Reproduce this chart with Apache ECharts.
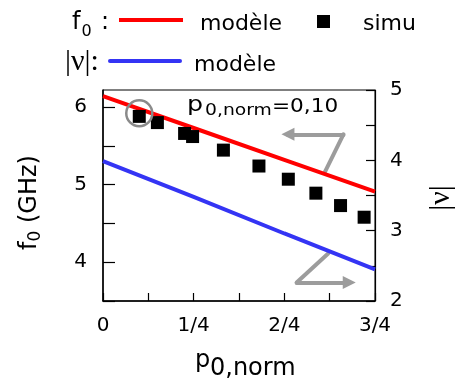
<!DOCTYPE html>
<html>
<head>
<meta charset="utf-8">
<script src="https://cdn.jsdelivr.net/npm/echarts@6/dist/echarts.min.js"></script>
<style>
html,body{margin:0;padding:0;background:#fff;}
#chart{width:465px;height:384px;}
</style>
</head>
<body>
<div id="chart"></div>
<script>
// ---- data ----
const pModel = [0, 0.25, 0.5, 0.75];
const f0Model = [6.14, 5.73, 5.32, 4.91];      // GHz, left axis
const nuModel = [3.99, 3.48, 2.96, 2.45];      // |nu|, right axis
const pSimu = [0.10, 0.15, 0.225, 0.247, 0.332, 0.43, 0.511, 0.587, 0.655, 0.72];
const f0Simu = [5.88, 5.80, 5.66, 5.62, 5.445, 5.24, 5.07, 4.89, 4.73, 4.58];
const highlightPoint = [0.10, 5.92];
const xTickValues = [0, 0.25, 0.5, 0.75];
const xTickLabels = ['0', '1/4', '2/4', '3/4'];
const f0TickLabels = [4, 5, 6];
const nuTickLabels = [2, 3, 4, 5];
// annotation arrows (data coordinates, left axis)
const arrowF0Stem = [[0.612, 5.165], [0.663, 5.648]];
const arrowF0Head = [[0.663, 5.648], [0.510, 5.648]];
const arrowNuStem = [[0.621, 4.112], [0.534, 3.738]];
const arrowNuHead = [[0.534, 3.738], [0.679, 3.738]];

const FONT = 'DejaVu Sans';
const SERIF = 'Liberation Serif';
const chart = echarts.init(document.getElementById('chart'), null, {renderer: 'canvas'});

function zip(a, b) { return a.map((v, i) => [v, b[i]]); }

function txt(x, y, text, size, extra) {
  return Object.assign({
    type: 'text', x: x, y: y,
    style: Object.assign({text: text, fontSize: size, fontFamily: FONT, fill: '#000',
      align: 'left', verticalAlign: 'middle'}, (extra && extra.style) || {})
  }, extra && extra.el || {});
}

const option = {
  backgroundColor: '#fff',
  animation: false,
  grid: {left: 103, right: 90, top: 90, bottom: 83, show: true, borderColor: '#000', borderWidth: 1,
    containLabel: false, outerBoundsMode: 'none'},
  xAxis: {
    type: 'value', min: 0, max: 0.75, interval: 0.125,
    axisLine: {show: true, lineStyle: {color: '#000', width: 1.5}},
    axisTick: {show: true, inside: true, length: 8, lineStyle: {color: '#000', width: 1.2}},
    splitLine: {show: false},
    axisLabel: {
      margin: 15, fontSize: 20, fontFamily: FONT, color: '#000',
      formatter: function (v) {
        for (let i = 0; i < xTickValues.length; i++) if (Math.abs(v - xTickValues[i]) < 1e-6) return xTickLabels[i];
        return '';
      }
    }
  },
  yAxis: [{
    type: 'value', min: 3.5, max: 6.22, interval: 0.5, position: 'left',
    axisLine: {show: true, lineStyle: {color: '#000', width: 1.5}},
    axisTick: {show: true, inside: true, length: 12, lineStyle: {color: '#000', width: 1.2}},
    splitLine: {show: false},
    axisLabel: {
      margin: 16, fontSize: 20, fontFamily: FONT, color: '#000', padding: [0, 0, 10, 0],
      showMaxLabel: false,
      formatter: function (v) {
        for (const t of f0TickLabels) if (Math.abs(v - t) < 1e-6) return String(t);
        return '';
      }
    }
  }, {
    type: 'value', min: 2, max: 5, interval: 0.5, position: 'right',
    axisLine: {show: true, lineStyle: {color: '#000', width: 1.2}},
    axisTick: {show: true, inside: true, length: 9, lineStyle: {color: '#000', width: 1.2}},
    splitLine: {show: false},
    axisLabel: {
      margin: 15, fontSize: 20, fontFamily: FONT, color: '#000',
      formatter: function (v) {
        for (const t of nuTickLabels) if (Math.abs(v - t) < 1e-6) return String(t);
        return '';
      }
    }
  }],
  series: [
    {
      name: 'f0 modèle', type: 'line', yAxisIndex: 0, data: zip(pModel, f0Model),
      showSymbol: false, lineStyle: {color: '#ff0000', width: 4}, z: 3
    },
    {
      name: '|ν| modèle', type: 'line', yAxisIndex: 1, data: zip(pModel, nuModel),
      showSymbol: false, lineStyle: {color: '#3434f4', width: 4}, z: 3
    },
    {
      name: 'simu', type: 'scatter', yAxisIndex: 0, data: zip(pSimu, f0Simu),
      symbol: 'rect', symbolSize: 13, itemStyle: {color: '#000', opacity: 1}, z: 4
    },
    {
      name: 'p0 highlight', type: 'scatter', yAxisIndex: 0, data: [highlightPoint],
      symbol: 'circle', symbolSize: 26, silent: true,
      itemStyle: {color: 'rgba(0,0,0,0)', borderColor: '#8a8a8a', borderWidth: 2.5, opacity: 1}, z: 5
    },
    {
      type: 'lines', coordinateSystem: 'cartesian2d', xAxisIndex: 0, yAxisIndex: 0,
      data: [{coords: arrowF0Stem}, {coords: arrowNuStem}],
      symbol: ['none', 'none'],
      lineStyle: {color: '#9c9c9c', width: 4, opacity: 1, curveness: 0, cap: 'round'}, z: 2, silent: true
    },
    {
      type: 'lines', coordinateSystem: 'cartesian2d', xAxisIndex: 0, yAxisIndex: 0,
      data: [{coords: arrowF0Head}, {coords: arrowNuHead}],
      symbol: ['none', 'triangle'], symbolSize: 13,
      lineStyle: {color: '#9c9c9c', width: 4, opacity: 1, curveness: 0, cap: 'round'}, z: 2, silent: true
    }
  ],
  graphic: [
    // legend row 1
    txt(72, 22.8, 'f', 24),
    txt(81.5, 31.9, '0', 16),
    txt(101, 22.8, ':', 24),
    {type: 'line', shape: {x1: 119, y1: 20, x2: 183, y2: 20}, style: {stroke: '#ff0000', lineWidth: 4}},
    txt(200, 24, 'modèle', 22),
    {type: 'rect', shape: {x: 317, y: 15, width: 13, height: 13}, style: {fill: '#000'}},
    txt(363, 24, 'simu', 22),
    // legend row 2
    txt(65, 62, '|ν|:', 30, {style: {fontFamily: SERIF}}),
    {type: 'line', shape: {x1: 110, y1: 61, x2: 180, y2: 61}, style: {stroke: '#3434f4', lineWidth: 4, lineCap: 'round'}},
    txt(194, 65, 'modèle', 22),
    // annotation p0,norm=0,10
    txt(187, 105, 'p', 22, {el: {scaleX: 1.15}}),
    txt(205, 111, '0,norm', 15, {el: {scaleX: 1.25}}),
    txt(272, 107, '=0,10', 20, {el: {scaleX: 1.08}}),
    // x axis title
    txt(195, 361, 'p', 24),
    txt(210, 369, '0,norm', 24),
    // left y axis title (rotated)
    {
      type: 'group', x: 30, y: 250, rotation: Math.PI / 2,
      children: [
        txt(0, 0, 'f', 24),
        txt(8.5, 6, '0', 17),
        txt(27, 0, '(GHz)', 24)
      ]
    },
    // right y axis title (rotated)
    {
      type: 'group', x: 441, y: 198, rotation: Math.PI / 2,
      children: [
        txt(0, 0, '|ν|', 30, {style: {fontFamily: SERIF, align: 'center'}})
      ]
    }
  ]
};
chart.setOption(option);
</script>
</body>
</html>
